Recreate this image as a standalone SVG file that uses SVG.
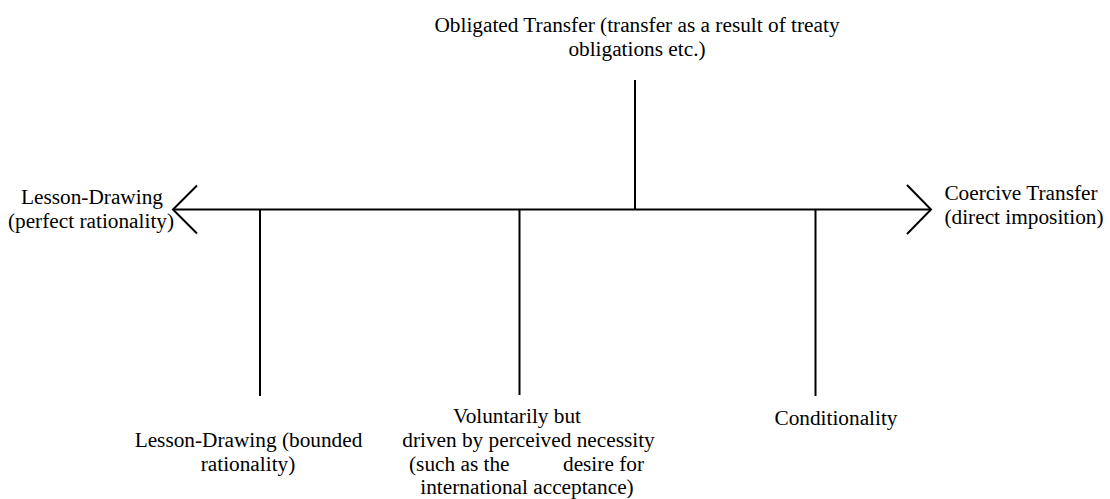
<svg xmlns="http://www.w3.org/2000/svg" width="1110" height="499" viewBox="0 0 1110 499">
<style>
.t{font-family:"Liberation Serif","Times New Roman",serif;font-size:21.3px;fill:#000;}
.m{text-anchor:middle;}
.ln{stroke:#000;stroke-width:2;fill:none;}
</style>
<rect width="1110" height="499" fill="#fff"/>
<g id="connectors">
<line class="ln" x1="174" y1="209.5" x2="931" y2="209.5"/>
<polyline class="ln" points="197,185.5 173,209.5 197,233.5"/>
<polyline class="ln" points="907,185 931,209.5 907,234"/>
<line class="ln" x1="635" y1="80" x2="635" y2="210"/>
<line class="ln" x1="260" y1="210" x2="260" y2="396"/>
<line class="ln" x1="519.5" y1="210" x2="519.5" y2="395"/>
<line class="ln" x1="815.5" y1="210" x2="815.5" y2="396"/>
</g>
<g id="obligated">
<text class="t m" x="637" y="32">Obligated Transfer (transfer as a result of treaty</text>
<text class="t m" x="637" y="56">obligations etc.)</text>
</g>
<g id="lesson-perfect">
<text class="t m" x="92" y="204">Lesson-Drawing</text>
<text class="t m" x="91" y="228">(perfect rationality)</text>
</g>
<g id="coercive">
<text class="t m" x="1021" y="200">Coercive Transfer</text>
<text class="t m" x="1024" y="224">(direct imposition)</text>
</g>
<g id="lesson-bounded">
<text class="t m" x="248.5" y="447">Lesson-Drawing (bounded</text>
<text class="t m" x="248" y="471">rationality)</text>
</g>
<g id="voluntarily">
<text class="t m" x="517" y="423">Voluntarily but</text>
<text class="t m" x="528.5" y="447">driven by perceived necessity</text>
<text class="t" x="409" y="471">(such as the</text>
<text class="t" x="644" y="471" text-anchor="end">desire for</text>
<text class="t m" x="527" y="494">international acceptance)</text>
</g>
<g id="conditionality">
<text class="t m" x="836" y="425">Conditionality</text>
</g>
</svg>
